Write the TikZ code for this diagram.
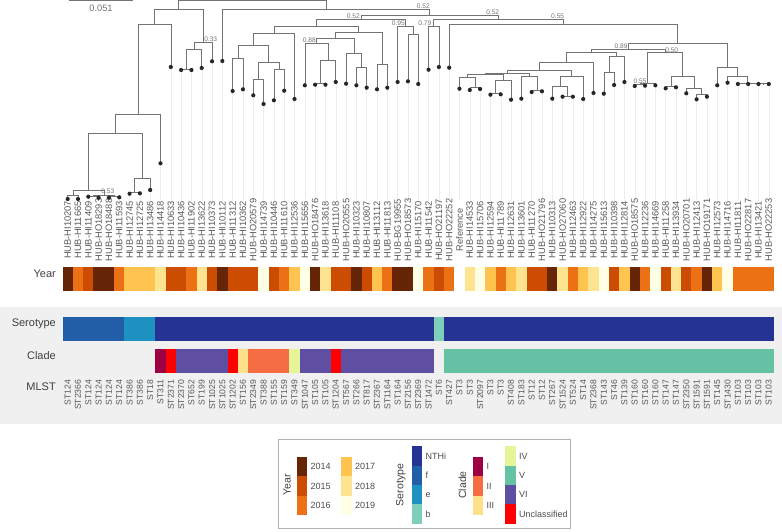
\documentclass[tikz,border=0pt]{standalone}
\usepackage{fontspec}
\setmainfont{Liberation Sans}
\usetikzlibrary{calc}

% year colours
\definecolor{y2014}{HTML}{662506}
\definecolor{y2015}{HTML}{CC4C02}
\definecolor{y2016}{HTML}{EC7014}
\definecolor{y2017}{HTML}{FEC44F}
\definecolor{y2018}{HTML}{FEE391}
\definecolor{y2019}{HTML}{FFFFE5}
% serotype colours
\definecolor{sNTHi}{HTML}{253494}
\definecolor{sf}{HTML}{225EA8}
\definecolor{se}{HTML}{1D91C0}
\definecolor{sb}{HTML}{7FCDBB}
% clade colours
\definecolor{cI}{HTML}{9E0142}
\definecolor{cII}{HTML}{F46D43}
\definecolor{cIII}{HTML}{FEE08B}
\definecolor{cIV}{HTML}{E6F598}
\definecolor{cV}{HTML}{66C2A5}
\definecolor{cVI}{HTML}{5E4FA2}
\definecolor{cU}{HTML}{FF0000}
\definecolor{panel}{HTML}{F0F0F0}

\tikzset{
  branch/.style={draw=black!55, line width=0.55pt},
  tipdot/.style={fill=black!85},
  leader/.style={draw=black!7, line width=0.4pt},
  tiplab/.style={rotate=90, text=black!65, inner sep=0pt, font=\fontsize{9.3}{9.3}\selectfont},
  stlab/.style={rotate=90, anchor=east, text=black!65, inner sep=0pt, font=\fontsize{8.6}{8.6}\selectfont},
  bs/.style={text=black!55, inner sep=0pt, font=\fontsize{6.6}{6.6}\selectfont},
  rowlab/.style={anchor=east, text=black!75, inner sep=0pt, font=\fontsize{11}{11}\selectfont},
  leglab/.style={anchor=west, text=black!70, inner sep=0pt, font=\fontsize{9}{9}\selectfont},
  legtitle/.style={rotate=90, text=black!75, inner sep=0pt, font=\fontsize{10.5}{10.5}\selectfont},
}

% internal node: name, child, child, depth
\newcommand{\inode}[4]{%
  \path ($(#2)!0.5!(#3)$) coordinate (#1m);
  \coordinate (#1) at (#1m |- 0,#4);
  \draw[branch] (#1) -| (#2);
  \draw[branch] (#1) -| (#3);
}

\begin{document}
\begin{tikzpicture}[x=1pt,y=-1pt]
  \useasboundingbox (0,0) rectangle (782,531);

  % Tips, leaders and tip labels
  \foreach \k/\d/\lab in {1/199/HUB-HI10207, 2/199/HUB-HI11665, 3/196.7/HUB-HI11409,
      4/197.7/HUB-HO18293, 5/197.7/HUB-HO18488, 6/197.3/HUB-HI11593, 7/193.7/HUB-HI12745,
      8/193.3/HUB-HI12725, 9/190/HUB-HI13486, 10/163.3/HUB-HI14418, 11/67/HUB-HI10633,
      12/70/HUB-HI10436, 13/70/HUB-HI11902, 14/68/HUB-HI13622, 15/61.3/HUB-HI10373,
      16/61/HUB-HI10112, 17/91/HUB-HI11312, 18/89.3/HUB-HI10362, 19/95.3/HUB-HO20579,
      20/104/HUB-HI14739, 21/100.3/HUB-HI10446, 22/90.7/HUB-HI11610, 23/99/HUB-HI12536,
      24/85.3/HUB-HI15656, 25/84.7/HUB-HO18476, 26/84.7/HUB-HI13618, 27/82/HUB-HI11108,
      28/83.7/HUB-HO20555, 29/85.3/HUB-HI10323, 30/87.7/HUB-HI10807, 31/89.3/HUB-HI13112,
      32/87.7/HUB-HI11813, 33/82/HUB-BG19955, 34/81.3/HUB-HO18573, 35/84/HUB-HI15170,
      36/69.7/HUB-HI11542, 37/67/HUB-HO21197, 38/67.7/HUB-HO22252, 39/88.7/Reference,
      40/90/HUB-HI14533, 41/89/HUB-HI15706, 42/94.7/HUB-HI12594, 43/94.3/HUB-HI11789,
      44/99.7/HUB-HI12631, 45/98.7/HUB-HI13601, 46/92/HUB-HI11270, 47/91.3/HUB-HO21796,
      48/98.7/HUB-HI10313, 49/96.7/HUB-HO27060, 50/96.7/HUB-HI12463, 51/99/HUB-HI12922,
      52/93/HUB-HI14275, 53/93.7/HUB-HI15613, 54/85/HUB-HI10398, 55/82/HUB-HI12814,
      56/86/HUB-HO18575, 57/85.7/HUB-HI12236, 58/85.3/HUB-HI14669, 59/88.3/HUB-HI11258,
      60/87.3/HUB-HI13934, 61/93.3/HUB-HO20701, 62/99.3/HUB-HI12413, 63/96.7/HUB-HO19171,
      64/85.3/HUB-HI12573, 65/82.7/HUB-HI14716, 66/84/HUB-HI11811, 67/84/HUB-HO22817,
      68/84/HUB-HI13421, 69/84/HUB-HO22253} {
    \coordinate (t\k) at ({67.7+(\k-1)*10.31},\d);
    \draw[leader] (t\k) -- (t\k |- 0,201);
    \node[tiplab] (lab\k) at (t\k |- 0,230) {\lab};
  }

  % Tree, lower clade
  \inode{nA}{t1}{t2}{195}
  \inode{nB}{t3}{t4}{196.2}
  \inode{nC}{t5}{t6}{196.5}
  \inode{nD}{nB}{nC}{195.3}
  \inode{nE}{nA}{nD}{190.7}
  \inode{nF}{t7}{t8}{192}
  \inode{nG}{nF}{t9}{178.3}
  \inode{nH}{nE}{nG}{133.3}
  \inode{nI}{nH}{t10}{114.3}
  \inode{nJ}{nI}{t11}{24.3}
  \inode{nK}{t12}{t13}{69.3}
  \inode{nL}{nK}{t14}{49.3}
  \inode{nM}{nL}{t15}{42.7}
  \inode{nN}{nJ}{nM}{9.3}

  % Tree, middle clades
  \inode{r1718}{t17}{t18}{58.3}
  \inode{r1920}{t19}{t20}{79}
  \inode{r2122}{t21}{t22}{69.3}
  \inode{rQb}{r1920}{r2122}{62.7}
  \inode{rQa}{r1718}{rQb}{45.7}
  \inode{rQ}{rQa}{t23}{33.3}
  \inode{r2526}{t25}{t26}{83.3}
  \inode{rV}{r2526}{t27}{60.7}
  \inode{rU}{t24}{rV}{43.3}
  \inode{r2930}{t29}{t30}{67.3}
  \inode{rW}{t28}{r2930}{53.3}
  \inode{rX}{rU}{rW}{38.3}
  \inode{r3132}{t31}{t32}{64.3}
  \inode{rY}{rX}{r3132}{32.3}
  \inode{rP}{rQ}{rY}{26.7}
  \inode{r3435}{t34}{t35}{34.3}
  \inode{rZ}{t33}{r3435}{26}
  \inode{rB}{rP}{rZ}{19.3}
  \inode{r3637}{t36}{t37}{26.7}

  % Tree, right clade
  \inode{r4041}{t40}{t41}{87.3}
  \inode{s1}{t39}{r4041}{77.3}
  \inode{r4243}{t42}{t43}{93.5}
  \inode{s2}{r4243}{t44}{80}
  \inode{s3}{s1}{s2}{74}
  \inode{r4647}{t46}{t47}{90.5}
  \inode{s4}{t45}{r4647}{76.7}
  \inode{s5}{s3}{s4}{73.3}
  \inode{r4950}{t49}{t50}{96}
  \inode{s6}{t48}{r4950}{86.7}
  \inode{s7}{s6}{t51}{76.7}
  \inode{s8}{s5}{s7}{70}
  \inode{s9}{s8}{t52}{62.7}
  \inode{r5354}{t53}{t54}{72.7}
  \inode{s10}{r5354}{t55}{56.7}
  \inode{s11}{s9}{s10}{52.3}
  \inode{r5657}{t56}{t57}{84.7}
  \inode{s12}{r5657}{t58}{83.3}
  \inode{r5960}{t59}{t60}{86}
  \inode{r6263}{t62}{t63}{94.7}
  \inode{s13}{t61}{r6263}{88.3}
  \inode{s14}{r5960}{s13}{76}
  \inode{s15}{s12}{s14}{52.3}
  \inode{s16}{s11}{s15}{49.3}
  \inode{r6869}{t68}{t69}{83.6}
  \inode{s17}{t67}{r6869}{83.5}
  \inode{s18}{t66}{s17}{83.3}
  \inode{s19}{t65}{s18}{76}
  \inode{s20}{t64}{s19}{67.7}
  \inode{s21}{s16}{s20}{43.3}
  \inode{s22}{t38}{s21}{24.3}
  \inode{rC}{r3637}{s22}{19.3}
  \inode{rA}{rB}{rC}{15}
  \inode{rR}{t16}{rA}{9.3}
  \inode{root}{nN}{rR}{0.7}

  \foreach \k in {1,...,69} \fill[tipdot] (t\k) circle (2.1pt);

  % Support values
  \node[bs] (bs1) at ($(rA)+(-6.4,-9)$) {0.52};
  \node[bs] (bs2) at ($(rB)+(-7.5,-2.6)$) {0.52};
  \node[bs] (bs3) at ($(rC)+(-5.9,-6.6)$) {0.52};
  \node[bs] (bs4) at ($(s22)+(-5.8,-8.3)$) {0.55};
  \node[bs] (bs5) at ($(rZ)+(-7.1,-2.7)$) {0.95};
  \node[bs] (bs6) at ($(r3637)+(-8.8,-3.4)$) {0.79};
  \node[bs] (bs7) at ($(rU)+(-7.1,-3.3)$) {0.88};
  \node[bs] (bs8) at ($(nM)+(7.7,-3.7)$) {0.33};
  \node[bs] (bs9) at ($(s16)+(-7.3,-3.3)$) {0.89};
  \node[bs] (bs10) at ($(s15)+(6.7,-2.3)$) {0.50};
  \node[bs] (bs11) at ($(r5657)+(0.2,-3)$) {0.55};
  \node[bs] (bs12) at ($(nD)+(4,-3.8)$) {0.53};

  % Scale bar
  \coordinate (sbA) at (69,0.7);
  \coordinate (sbB) at (133,0.7);
  \draw[branch] (sbA) -- (sbB);
  \node[bs, font=\fontsize{9.3}{9.3}\selectfont] (sbl) at ($(sbA)!0.5!(sbB)+(0,8)$) {0.051};

  % Year row
  \node[rowlab] (rYear) at (56,274) {Year};
  \foreach \k/\yr in {1/2014,2/2016,3/2015,4/2014,5/2014,6/2016,7/2017,8/2017,9/2017,
      10/2018,11/2015,12/2015,13/2016,14/2018,15/2015,16/2014,17/2015,18/2015,19/2015,
      20/2019,21/2015,22/2016,23/2017,24/2019,25/2014,26/2018,27/2015,28/2015,29/2014,
      30/2015,31/2017,32/2016,33/2014,34/2014,35/2019,36/2016,37/2015,38/2016,
      40/2018,41/2019,42/2017,43/2016,44/2017,45/2018,46/2015,47/2015,48/2014,49/2018,
      50/2016,51/2017,52/2018,53/2019,54/2015,55/2017,56/2014,57/2016,58/2019,59/2015,
      60/2018,61/2015,62/2016,63/2014,64/2017,65/2019,66/2016,67/2016,68/2016,69/2016}
    \fill[y\yr] ({52.235+\k*10.31},267) rectangle ++(10.31,24);

  % Grey panel
  \fill[panel] (0,307.3) rectangle (782,424);

  % Serotype row
  \node[rowlab] (rSero) at (56,323.5) {Serotype};
  \foreach \a/\b/\s in {1/6/f,7/9/e,10/36/NTHi,37/37/b,38/69/NTHi}
    \fill[s\s] ({52.235+\a*10.31},316.7) rectangle ({62.545+\b*10.31},341);

  % Clade row
  \node[rowlab] (rClade) at (56,356) {Clade};
  \foreach \a/\b/\c in {10/10/I,11/11/U,12/16/VI,17/17/U,18/18/III,19/22/II,23/23/IV,
      24/26/VI,27/27/U,28/36/VI,38/69/V}
    \fill[c\c] ({52.235+\a*10.31},349.3) rectangle ({62.545+\b*10.31},373.3);

  % MLST row
  \node[rowlab] (rMLST) at (56,387) {MLST};
  \foreach \k/\st in {1/124,2/2366,3/124,4/124,5/124,6/124,7/386,8/386,9/18,10/311,
      11/2371,12/2370,13/652,14/199,15/1025,16/1025,17/1202,18/156,19/2349,20/388,
      21/155,22/159,23/349,24/1047,25/105,26/105,27/1204,28/567,29/266,30/817,
      31/2367,32/1164,33/164,34/2156,35/2369,36/1472,37/6,38/427,39/3,40/3,
      41/2097,42/3,43/3,44/408,45/183,46/12,47/12,48/267,49/1524,50/524,
      51/14,52/2368,53/143,54/46,55/139,56/160,57/160,58/160,59/147,60/147,
      61/2350,62/1591,63/1591,64/145,65/1430,66/103,67/103,68/103,69/103}
    \node[stlab] (st\k) at ({67.7+(\k-1)*10.31},379.5) {ST\st};

  % Legend
  \draw[black!30, line width=0.5pt] (278,439) rectangle (570,528);
  \node[legtitle] (lgYear) at (287,485) {Year};
  \foreach \yr [count=\i from 0] in {2014,2015,2016} {
    \fill[y\yr] (296.7,{457+\i*19.3}) rectangle ++(10.6,19.3);
    \node[leglab] at (310.5,{466.65+\i*19.3}) {\yr};
  }
  \foreach \yr [count=\i from 0] in {2017,2018,2019} {
    \fill[y\yr] (341,{457+\i*19.3}) rectangle ++(10.6,19.3);
    \node[leglab] at (354.8,{466.65+\i*19.3}) {\yr};
  }
  \node[legtitle] (lgSero) at (400.7,485) {Serotype};
  \foreach \s/\t [count=\i from 0] in {NTHi/NTHi,f/f,e/e,b/b} {
    \fill[s\s] (411.7,{446.4+\i*19.3}) rectangle ++(10.6,19.3);
    \node[leglab] at (425.5,{456.05+\i*19.3}) {\t};
  }
  \node[legtitle] (lgClade) at (462.3,485) {Clade};
  \foreach \c [count=\i from 0] in {I,II,III} {
    \fill[c\c] (472.7,{457+\i*19.3}) rectangle ++(10.6,19.3);
    \node[leglab] at (486.5,{466.65+\i*19.3}) {\c};
  }
  \foreach \c/\t [count=\i from 0] in {IV/IV,V/V,VI/VI,U/Unclassified} {
    \fill[c\c] (505,{446.4+\i*19.3}) rectangle ++(10.6,19.3);
    \node[leglab] at (518.8,{456.05+\i*19.3}) {\t};
  }

\end{tikzpicture}
\end{document}
